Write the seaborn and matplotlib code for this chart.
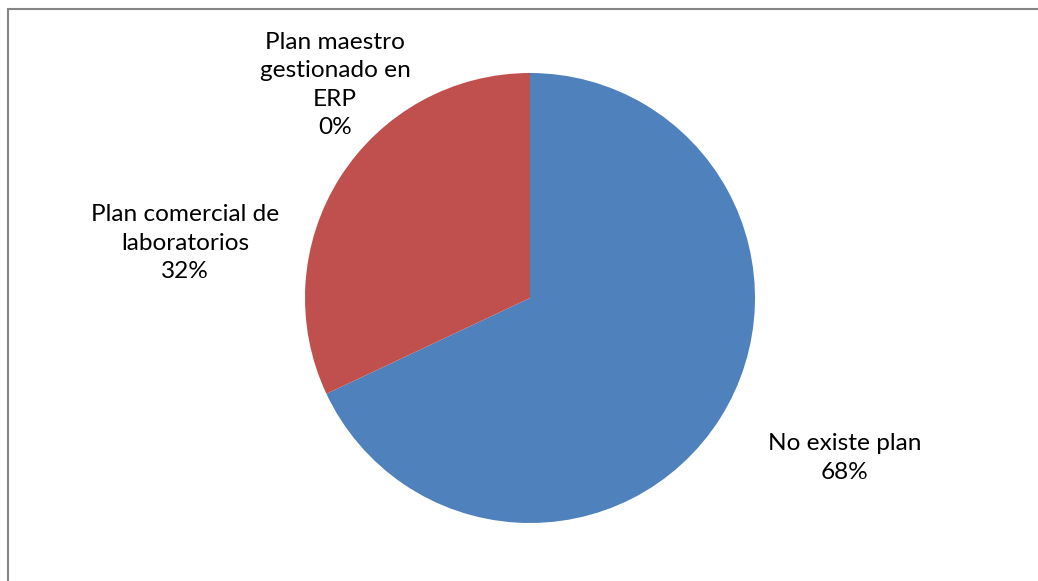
import matplotlib
matplotlib.use("Agg")
import matplotlib.pyplot as plt
import seaborn as sns
from matplotlib.patches import Rectangle

# Share of responses by planning approach
categories = ["No existe plan", "Plan comercial de\nlaboratorios", "Plan maestro\ngestionado en\nERP"]
values = [68, 32, 0]
colors = ["#4F81BD", "#C0504D", "#9BBB59"]

sns.set_theme(style="white")
plt.rcParams["font.family"] = ["Lato", "DejaVu Sans"]

W, H = 1038, 581
fig = plt.figure(figsize=(W / 100, H / 100), dpi=100)
ax = fig.add_axes([0, 0, 1, 1])

cx, cy, r = 530, H - 298, 225
wedges, _ = ax.pie(values, colors=colors, startangle=90, counterclock=False,
                   center=(cx, cy), radius=r, frame=True,
                   wedgeprops=dict(linewidth=0))
ax.set_xlim(0, W)
ax.set_ylim(0, H)
ax.set_aspect("auto")
ax.axis("off")

total = sum(values)
label_pos = [(845, H - 458), (185, H - 243), (335, H - 85)]
for name, v, (x, y) in zip(categories, values, label_pos):
    ax.text(x, y, f"{name}\n{round(100 * v / total)}%", ha="center", va="center",
            fontsize=17.6, color="black", linespacing=1.42)

# chart frame (top and left edges visible)
fig.patches.append(Rectangle((8 / W, -0.1), 1.2, (H - 9) / H + 0.1, transform=fig.transFigure,
                             fill=False, edgecolor="#868686", linewidth=1.5))

fig.savefig("out.png", dpi=100)
